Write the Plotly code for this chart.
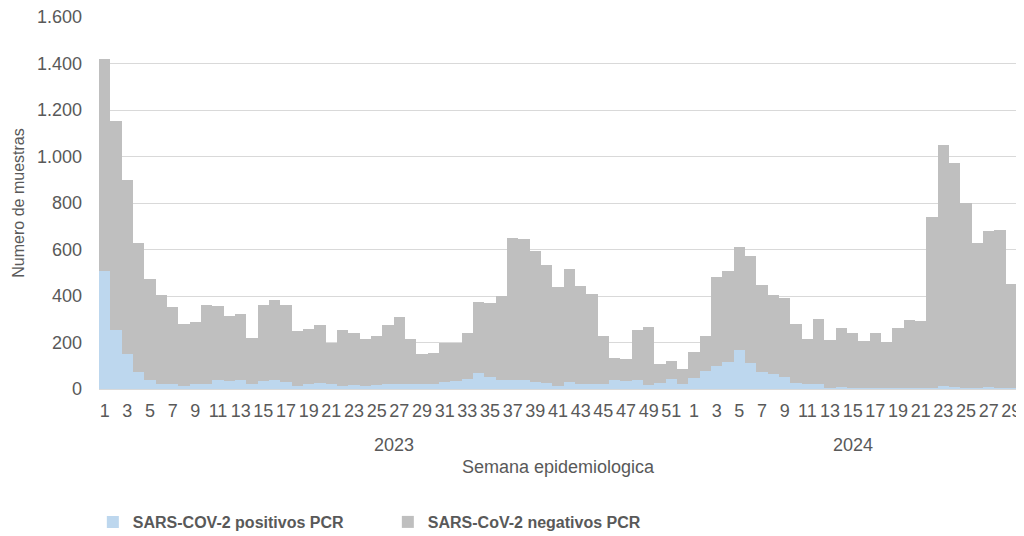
import plotly.graph_objects as go

# Weekly PCR samples, epidemiological weeks 2023 (1-52) and 2024 (1-29)
weeks_2023 = list(range(1, 53))
weeks_2024 = list(range(1, 30))

positivos_2023 = [507, 254, 151, 74, 37, 20, 20, 11, 20, 20, 37, 33, 40, 20, 33, 37, 28, 14, 23, 26,
                  20, 15, 18, 11, 17, 20, 20, 20, 20, 20, 31, 33, 44, 67, 53, 37, 37, 40, 28, 26,
                  14, 28, 20, 20, 20, 40, 33, 37, 16, 26, 44, 23]
negativos_2023 = [913, 900, 748, 556, 438, 386, 332, 268, 269, 340, 319, 281, 284, 201, 329, 345, 334, 236, 237, 248,
                  180, 239, 222, 205, 212, 254, 290, 196, 131, 137, 166, 167, 196, 309, 316, 362, 611, 607, 567, 506,
                  426, 487, 423, 388, 209, 93, 96, 216, 250, 83, 77, 63]

positivos_2024 = [48, 77, 101, 116, 169, 114, 71, 66, 51, 26, 20, 20, 4, 8, 3, 3, 3, 3, 3, 6,
                  3, 3, 14, 7, 6, 3, 10, 3, 3]
negativos_2024 = [111, 152, 382, 391, 440, 458, 375, 339, 339, 254, 194, 282, 208, 256, 236, 204, 236, 200, 261, 290,
                  289, 737, 1037, 963, 796, 627, 668, 683, 449]

years = ['2023', '2024']

# unique category per bar, labelled only with the week number (odd weeks shown)
cats = [f'2023-{w}' for w in weeks_2023] + [f'2024-{w}' for w in weeks_2024]
week_nums = weeks_2023 + weeks_2024
tick_vals = [c for c, w in zip(cats, week_nums) if w % 2 == 1]
tick_text = [str(w) for w in week_nums if w % 2 == 1]

positivos = positivos_2023 + positivos_2024
negativos = negativos_2023 + negativos_2024

TEXT = '#595959'
FONT = 'Liberation Sans'

fig = go.Figure()
fig.add_trace(go.Bar(
    x=cats, y=positivos, name='SARS-COV-2 positivos PCR',
    marker=dict(color='#BDD7EE', line=dict(width=0)),
))
fig.add_trace(go.Bar(
    x=cats, y=negativos, name='SARS-CoV-2 negativos PCR',
    marker=dict(color='#BFBFBF', line=dict(width=0)),
))

# year labels centred under each block of weeks
n23 = len(weeks_2023)
n24 = len(weeks_2024)
year_centres = [(n23 - 1) / 2, n23 + (n24 - 1) / 2]
annotations = [
    dict(x=xc, y=-0.1505, xref='x', yref='paper', text=yr, showarrow=False,
         font=dict(size=18, color=TEXT), xanchor='center', yanchor='middle')
    for xc, yr in zip(year_centres, years)
]
annotations.append(dict(
    x=0.5, y=-0.2097, xref='paper', yref='paper', text='Semana epidemiologica',
    showarrow=False, font=dict(size=18, color=TEXT), xanchor='center', yanchor='middle'
))

# page body keeps its default 8px margin, so the figure is 8px smaller than the window
fig.update_layout(
    barmode='stack',
    bargap=0,
    width=1016,
    height=528,
    margin=dict(l=91, r=7, t=9, b=147),
    paper_bgcolor='white',
    plot_bgcolor='white',
    separators=',.',
    font=dict(family=FONT, color=TEXT, size=18),
    xaxis=dict(
        type='category',
        range=[-0.5, len(cats) - 0.5],
        tickmode='array',
        tickvals=tick_vals,
        ticktext=tick_text,
        tickangle=0,
        showgrid=False,
        showline=True,
        linecolor='#D9D9D9',
        linewidth=1,
        ticks='',
        automargin=False,
        ticklabelstandoff=5,
        ticklabeloverflow='allow',
        tickfont=dict(size=18, color=TEXT),
    ),
    yaxis=dict(
        range=[0, 1600],
        dtick=200,
        tickformat=',d',
        showgrid=True,
        gridcolor='#D9D9D9',
        gridwidth=1,
        zeroline=False,
        showline=False,
        ticks='',
        automargin=False,
        ticklabelstandoff=16,
        ticklabeloverflow='allow',
        tickfont=dict(size=18, color=TEXT),
        title=dict(text='Numero de muestras', standoff=8, font=dict(size=16, color=TEXT)),
    ),
    legend=dict(
        orientation='h',
        traceorder='normal',
        xref='container',
        x=0.0835,
        xanchor='left',
        yref='container',
        y=0.0265,
        yanchor='middle',
        entrywidth=250,
        entrywidthmode='pixels',
        font=dict(family=FONT, size=16, color=TEXT, weight='bold'),
        bgcolor='rgba(0,0,0,0)',
    ),
    annotations=annotations,
)

fig.write_html('out.html')
